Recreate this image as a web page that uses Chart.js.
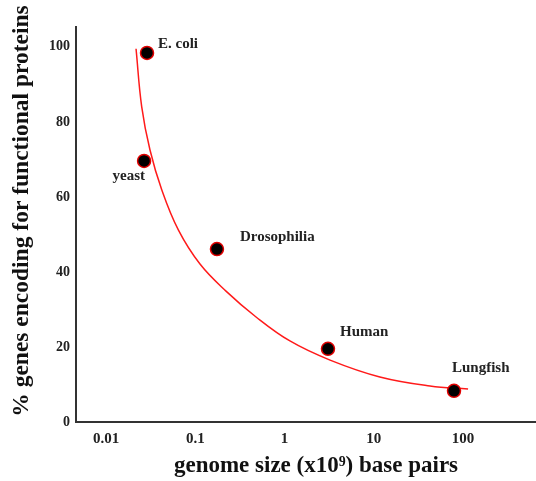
<!DOCTYPE html>
<html lang="en">
<head>
    <meta charset="UTF-8">
    <title>Genome size vs coding genes</title>
    <script src="https://cdn.jsdelivr.net/npm/chart.js"></script>
    <style>
        body {
            margin: 0;
            padding: 0;
            background: #fff;
        }
        canvas {
            display: block;
        }
    </style>
</head>
<body>
    <canvas id="genomeChart" width="536" height="481"></canvas>

    <script>
        // Values
        const organisms = ['E. coli', 'yeast', 'Drosophilia', 'Human', 'Lungfish'];
        const genomeSize = [0.0288, 0.0267, 0.175, 3.07, 79.3];   // x10^9 base pairs
        const pctCoding = [98.4, 69.6, 46.1, 19.5, 8.3];           // % genes coding

        // Hand-drawn red trend curve, sampled along its path
        const curveX = [0.0217, 0.0251, 0.0311, 0.0421, 0.0646, 0.113, 0.221, 0.480, 1.15, 3.24, 11.7, 42.7, 114];
        const curveY = [99.5, 84.1, 72.5, 61.9, 51.2, 42.1, 34.9, 28.0, 21.6, 16.5, 12.0, 9.6, 8.8];

        const xTicks = [0.01, 0.1, 1, 10, 100];
        const yTicks = [0, 20, 40, 60, 80, 100];

        const xTitle = 'genome size (x10\u2079) base pairs';
        const yTitle = '% genes encoding for functional proteins';

        const serif = '"Liberation Serif", "Times New Roman", serif';

        // label offsets relative to each point
        const labelOffsets = [
            { dx: 11, dy: -9, align: 'left' },
            { dx: 1, dy: 15, align: 'right' },
            { dx: 23, dy: -12, align: 'left' },
            { dx: 12, dy: -17, align: 'left' },
            { dx: -2, dy: -23, align: 'left' }
        ];

        const chartText = {
            id: 'chartText',
            afterDatasetsDraw(chart) {
                const meta = chart.getDatasetMeta(1);
                const c = chart.ctx;
                c.save();
                c.font = 'bold 15px ' + serif;
                c.fillStyle = '#222';
                c.textBaseline = 'middle';
                meta.data.forEach((pt, i) => {
                    const o = labelOffsets[i];
                    c.textAlign = o.align;
                    c.fillText(organisms[i], pt.x + o.dx, pt.y + o.dy);
                });
                c.restore();
            },
            afterDraw(chart) {
                const c = chart.ctx;
                c.save();
                c.fillStyle = '#111';
                c.textAlign = 'center';
                c.textBaseline = 'middle';
                c.font = 'bold 23px ' + serif;
                c.fillText(xTitle, 316, 466);
                c.translate(22, 211);
                c.rotate(-Math.PI / 2);
                c.font = 'bold 23.5px ' + serif;
                c.fillText(yTitle, 0, 0);
                c.restore();
            }
        };

        const ctx = document.getElementById('genomeChart').getContext('2d');
        const genomeChart = new Chart(ctx, {
            type: 'scatter',
            data: {
                datasets: [{
                    label: 'trend',
                    data: curveX.map((x, i) => ({ x: x, y: curveY[i] })),
                    showLine: true,
                    borderColor: '#ff1a1a',
                    borderWidth: 1.5,
                    pointRadius: 0,
                    tension: 0.4,
                    order: 2
                }, {
                    label: 'organisms',
                    data: genomeSize.map((x, i) => ({ x: x, y: pctCoding[i] })),
                    backgroundColor: '#000',
                    borderColor: '#e00000',
                    borderWidth: 1.5,
                    pointRadius: 6.5,
                    order: 1
                }]
            },
            options: {
                responsive: false,
                animation: false,
                layout: {
                    autoPadding: false,
                    padding: { top: 27, right: 1, left: 0, bottom: 0 }
                },
                plugins: {
                    legend: { display: false },
                    tooltip: { enabled: false }
                },
                scales: {
                    x: {
                        type: 'logarithmic',
                        min: 0.00461,
                        max: 641,
                        afterBuildTicks: axis => {
                            axis.ticks = xTicks.map(v => ({ value: v }));
                        },
                        afterFit: axis => { axis.height = 59; },
                        grid: { display: false, drawTicks: false },
                        border: { display: true, color: '#333', width: 2 },
                        ticks: {
                            padding: 8,
                            color: '#222',
                            font: { family: serif, size: 15, weight: 'bold' },
                            callback: v => String(v)
                        }
                    },
                    y: {
                        min: 0,
                        max: 105.3,
                        afterBuildTicks: axis => {
                            axis.ticks = yTicks.map(v => ({ value: v }));
                        },
                        afterFit: axis => { axis.width = 76; },
                        grid: { display: false, drawTicks: false },
                        border: { display: true, color: '#333', width: 2 },
                        ticks: {
                            padding: 6,
                            color: '#222',
                            font: { family: serif, size: 14, weight: 'bold' }
                        }
                    }
                }
            },
            plugins: [chartText]
        });
    </script>
</body>
</html>
